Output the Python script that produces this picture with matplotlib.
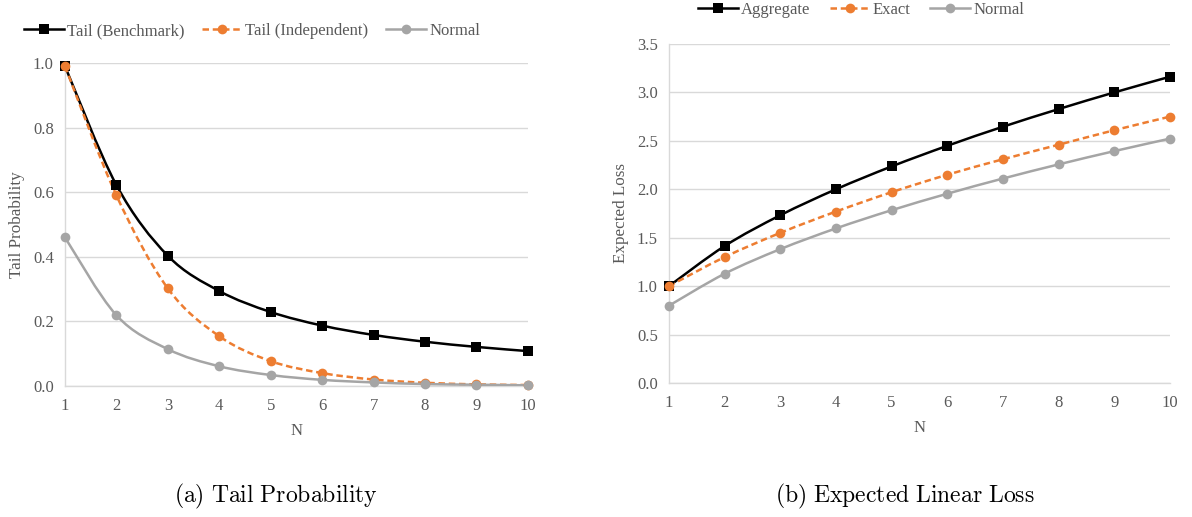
import matplotlib
matplotlib.use("Agg")
import matplotlib.pyplot as plt
import numpy as np
from matplotlib.path import Path
from matplotlib.patches import PathPatch
from matplotlib.lines import Line2D

plt.rcParams['font.family'] = ['Liberation Serif', 'DejaVu Serif']
plt.rcParams['mathtext.fontset'] = 'cm'

N = [1, 2, 3, 4, 5, 6, 7, 8, 9, 10]

# (a) tail probability
tail_benchmark = [0.99, 0.622, 0.403, 0.294, 0.229, 0.187, 0.158, 0.137, 0.121, 0.108]
tail_independent = [0.99, 0.59, 0.302, 0.154, 0.077, 0.040, 0.020, 0.010, 0.005, 0.003]
tail_normal = [0.46, 0.219, 0.114, 0.061, 0.034, 0.019, 0.011, 0.006, 0.004, 0.002]

# (b) expected linear loss
loss_aggregate = [1.0, 1.414, 1.732, 2.0, 2.236, 2.449, 2.646, 2.828, 3.0, 3.162]
loss_exact = [1.0, 1.30, 1.55, 1.77, 1.97, 2.15, 2.31, 2.46, 2.61, 2.75]
loss_normal = [0.798, 1.128, 1.382, 1.596, 1.784, 1.954, 2.111, 2.257, 2.394, 2.523]

BLACK = "#000000"
ORANGE = "#ED7D31"
GRAY = "#A5A5A5"
TEXT = "#595959"
GRID = "#D9D9D9"
DASH = (0, (2.6, 1.5))


def _smooth_path(x, y):
    # Excel-like smoothed line: Catmull-Rom segments as cubic beziers
    p = np.column_stack([x, y]).astype(float)
    verts = [p[0]]
    codes = [Path.MOVETO]
    for i in range(len(p) - 1):
        p0 = p[i - 1] if i > 0 else p[i]
        p3 = p[i + 2] if i + 2 < len(p) else p[i + 1]
        c1 = p[i] + (p[i + 1] - p0) / 6.0
        c2 = p[i + 1] - (p3 - p[i]) / 6.0
        verts.extend([c1, c2, p[i + 1]])
        codes.extend([Path.CURVE4] * 3)
    return Path(verts, codes)


def _series(ax, x, y, color, marker, ms, ls="-"):
    patch = PathPatch(_smooth_path(x, y), fill=False, edgecolor=color,
                      lw=1.8, linestyle=ls, capstyle="butt", zorder=3)
    ax.add_patch(patch)
    ax.plot(x, y, linestyle="none", marker=marker, ms=ms, color=color,
            markeredgewidth=0, zorder=4, clip_on=False)
    return Line2D([], [], color=color, lw=1.8, linestyle=ls,
                  marker=marker, ms=ms, markeredgewidth=0)


def _setup(ax, ymax, ystep, ylabel):
    ax.set_xlim(1, 10)
    ax.set_ylim(0, ymax)
    ax.set_xticks(N)
    ax.set_yticks(np.arange(0, ymax + 1e-9, ystep))
    ax.yaxis.set_major_formatter(plt.FormatStrFormatter("%.1f"))
    ax.grid(axis="y", color=GRID, lw=1.0)
    ax.set_axisbelow(True)
    for s in ["top", "right"]:
        ax.spines[s].set_visible(False)
    for s in ["left", "bottom"]:
        ax.spines[s].set_color(GRID)
        ax.spines[s].set_linewidth(1.0)
    ax.tick_params(length=0, labelsize=12, labelcolor=TEXT)
    ax.tick_params(axis="x", pad=9)
    ax.tick_params(axis="y", pad=8)
    ax.set_xlabel("N", fontsize=12, color=TEXT, labelpad=6)
    ax.set_ylabel(ylabel, fontsize=12.3, color=TEXT, labelpad=6)


fig = plt.figure(figsize=(11.92, 5.17), dpi=100)

ax1 = fig.add_axes([0.0545, 0.2534, 0.3884, 0.6248])
_setup(ax1, 1.0, 0.2, "Tail Probability")
h1 = _series(ax1, N, tail_benchmark, BLACK, "s", 7.5)
h2 = _series(ax1, N, tail_independent, ORANGE, "o", 7, DASH)
h3 = _series(ax1, N, tail_normal, GRAY, "o", 7)
fig.legend([h1, h2, h3], ["Tail (Benchmark)", "Tail (Independent)", "Normal"],
           loc="center", bbox_to_anchor=(252 / 1192, 1 - 31 / 517), ncol=3,
           frameon=False, fontsize=12, labelcolor=TEXT, handlelength=2.4,
           handletextpad=0.2, columnspacing=1.05)

ax2 = fig.add_axes([0.5612, 0.2592, 0.4203, 0.6557])
_setup(ax2, 3.5, 0.5, "Expected Loss")
g1 = _series(ax2, N, loss_aggregate, BLACK, "s", 7.5)
g2 = _series(ax2, N, loss_exact, ORANGE, "o", 7, DASH)
g3 = _series(ax2, N, loss_normal, GRAY, "o", 7)
fig.legend([g1, g2, g3], ["Aggregate", "Exact", "Normal"],
           loc="center", bbox_to_anchor=(861 / 1192, 1 - 10 / 517), ncol=3,
           frameon=False, fontsize=12, labelcolor=TEXT, handlelength=2.4,
           handletextpad=0.2, columnspacing=1.15)

fig.text(276 / 1192, 1 - 496 / 517, r"$\mathrm{(a)\ Tail\ Probability}$",
         ha="center", va="center", fontsize=17)
fig.text(905 / 1192, 1 - 496 / 517, r"$\mathrm{(b)\ Expected\ Linear\ Loss}$",
         ha="center", va="center", fontsize=17)

fig.savefig("out.png", dpi=100, facecolor="white")
